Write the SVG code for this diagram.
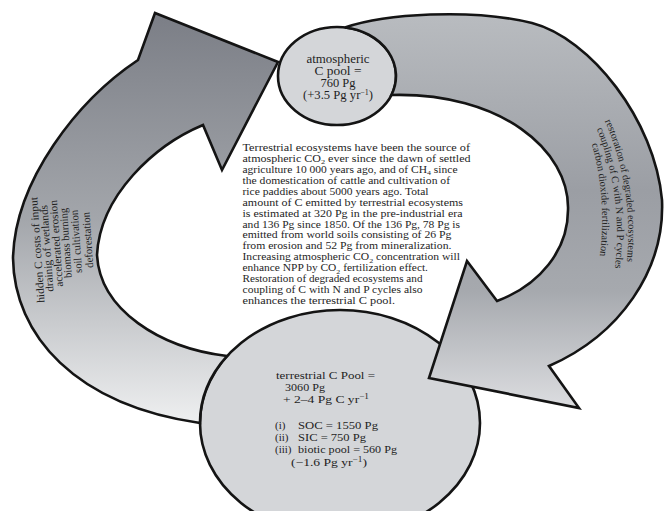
<svg xmlns="http://www.w3.org/2000/svg" width="664" height="511" viewBox="0 0 664 511">
  <style>
    .arrow { stroke: #141414; stroke-width: 2.6; stroke-linejoin: miter; }
    .pool { fill: #d4d6d9; stroke: #141414; stroke-width: 2.6; }
    text { font-family: "Liberation Serif", "Times New Roman", serif; fill: #1e1e1e; }
    .flow { font-size: 11px; fill: #3a3a3a; }
    .uptake { font-size: 10.4px; fill: #3a3a3a; }
    .note { font-size: 10.2px; }
    .pooltxt { font-size: 12px; }
    .soil { font-size: 11px; }
    .sub { font-size: 7px; }
    .sup { font-size: 7.5px; }
  </style>
  <defs>
    <linearGradient id="gradEmission" gradientUnits="userSpaceOnUse" x1="0" y1="13" x2="0" y2="425">
      <stop offset="0" stop-color="#7b7e86"/>
      <stop offset="0.5" stop-color="#a3a6ab"/>
      <stop offset="1" stop-color="#eff0f1"/>
    </linearGradient>
    <linearGradient id="gradUptake" gradientUnits="userSpaceOnUse" x1="0" y1="12" x2="0" y2="410">
      <stop offset="0" stop-color="#b9bcc0"/>
      <stop offset="0.45" stop-color="#9b9ea4"/>
      <stop offset="0.7" stop-color="#a6a9ae"/>
      <stop offset="1" stop-color="#dddee1"/>
    </linearGradient>
    <!-- gently curved baselines for the uptake labels -->
    <path id="arcUp1" d="M604.8,121 A280,280 0 0 1 626.7,263"/>
    <path id="arcUp2" d="M596.8,129 A280,280 0 0 1 614.7,270"/>
    <path id="arcUp3" d="M591.8,144 A280,280 0 0 1 599.7,257"/>
  </defs>

  <rect width="664" height="511" fill="#ffffff"/>

  <!-- carbon pools -->
  <g id="terrestrial-pool">
    <ellipse class="pool" cx="340" cy="423" rx="140" ry="113"/>
    <text class="soil" x="276" y="379" textLength="99" lengthAdjust="spacingAndGlyphs">terrestrial C Pool =</text>
    <text class="soil" x="285" y="391" textLength="40" lengthAdjust="spacingAndGlyphs">3060 Pg</text>
    <text class="soil" x="283" y="403" textLength="86" lengthAdjust="spacingAndGlyphs">+ 2–4 Pg C yr<tspan class="sup" dy="-4">−1</tspan></text>
    <text class="soil" x="275" y="429">(i)</text>
    <text class="soil" x="298" y="429" textLength="80" lengthAdjust="spacingAndGlyphs">SOC = 1550 Pg</text>
    <text class="soil" x="275" y="441">(ii)</text>
    <text class="soil" x="298" y="441" textLength="68" lengthAdjust="spacingAndGlyphs">SIC = 750 Pg</text>
    <text class="soil" x="275" y="453">(iii)</text>
    <text class="soil" x="298" y="453" textLength="99" lengthAdjust="spacingAndGlyphs">biotic pool = 560 Pg</text>
    <text class="soil" x="291" y="466" textLength="76" lengthAdjust="spacingAndGlyphs">(−1.6 Pg yr<tspan class="sup" dy="-4">−1</tspan><tspan dy="4">)</tspan></text>
  </g>

  <g id="atmospheric-pool">
    <ellipse class="pool" cx="337" cy="76" rx="59" ry="49"/>
    <g class="pooltxt" text-anchor="middle">
      <text x="338" y="63" textLength="63" lengthAdjust="spacingAndGlyphs">atmospheric</text>
      <text x="338" y="75" textLength="47" lengthAdjust="spacingAndGlyphs">C pool =</text>
      <text x="338" y="87" textLength="35" lengthAdjust="spacingAndGlyphs">760 Pg</text>
      <text x="338" y="99" textLength="70" lengthAdjust="spacingAndGlyphs">(+3.5 Pg yr<tspan class="sup" dy="-4">−1</tspan><tspan dy="4">)</tspan></text>
    </g>
  </g>

  <!-- flux arrows between the pools -->
  <g id="connectors">
    <g id="emission-arrow">
      <path class="arrow" fill="url(#gradEmission)"
            d="M200,423 C75,405 14,335 13,258 C15,180 78,100 138,60 L155,13 L278,62 L222,170 L203,125
               C155,145 100,195 97,255 C100,310 160,348 227,356 A140,113 0 0 0 200,423 Z"/>
      <g class="flow" text-anchor="middle">
        <text transform="translate(37,250) rotate(-94)" dy="0.35em" textLength="106" lengthAdjust="spacingAndGlyphs">hidden C costs of input</text>
        <text transform="translate(46.5,248.5) rotate(-94)" dy="0.35em" textLength="87" lengthAdjust="spacingAndGlyphs">drainig of wetlands</text>
        <text transform="translate(56,243.5) rotate(-94)" dy="0.35em" textLength="87" lengthAdjust="spacingAndGlyphs">accelerated erosion</text>
        <text transform="translate(65.5,243) rotate(-94)" dy="0.35em" textLength="70" lengthAdjust="spacingAndGlyphs">biomass burning</text>
        <text transform="translate(76,241.5) rotate(-94)" dy="0.35em" textLength="63" lengthAdjust="spacingAndGlyphs">soil cultivation</text>
        <text transform="translate(87.5,240) rotate(-94)" dy="0.35em" textLength="56" lengthAdjust="spacingAndGlyphs">deforestation</text>
      </g>
    </g>
    <g id="uptake-arrow">
      <path class="arrow" fill="url(#gradUptake)"
            d="M345,27.5 C385,14 470,8 532,23 C590,38 655,120 662,200 C665,270 620,335 549,366 L579,408 L429,378 L467,261 L497,301
               C540,285 568,250 568,210 C570,150 500,92 391.4,95 A59,49 0 0 0 345,27.5 Z"/>
      <g class="uptake">
        <text><textPath href="#arcUp1" textLength="144" lengthAdjust="spacingAndGlyphs">restoration of degraded ecosystems</textPath></text>
        <text><textPath href="#arcUp2" textLength="142" lengthAdjust="spacingAndGlyphs">coupling of C with N and P cycles</textPath></text>
        <text><textPath href="#arcUp3" textLength="113" lengthAdjust="spacingAndGlyphs">carbon dioxide fertilization</textPath></text>
      </g>
    </g>
  </g>

  <!-- explanatory paragraph -->
  <g id="summary" class="note">
    <text x="242.5" y="151" textLength="227.5" lengthAdjust="spacingAndGlyphs">Terrestrial ecosystems have been the source of</text>
    <text x="242.5" y="161.9" textLength="228" lengthAdjust="spacingAndGlyphs">atmospheric CO<tspan class="sub" dy="2.5">2</tspan><tspan dy="-2.5"> ever since the dawn of settled</tspan></text>
    <text x="242.5" y="172.9" textLength="215" lengthAdjust="spacingAndGlyphs">agriculture 10 000 years ago, and of CH<tspan class="sub" dy="2.5">4</tspan><tspan dy="-2.5"> since</tspan></text>
    <text x="242.5" y="183.8" textLength="207.5" lengthAdjust="spacingAndGlyphs">the domestication of cattle and cultivation of</text>
    <text x="242.5" y="194.7" textLength="186" lengthAdjust="spacingAndGlyphs">rice paddies about 5000 years ago. Total</text>
    <text x="242.5" y="205.7" textLength="220.5" lengthAdjust="spacingAndGlyphs">amount of C emitted by terrestrial ecosystems</text>
    <text x="242.5" y="216.6" textLength="220" lengthAdjust="spacingAndGlyphs">is estimated at 320 Pg in the pre-industrial era</text>
    <text x="242.5" y="227.5" textLength="217.5" lengthAdjust="spacingAndGlyphs">and 136 Pg since 1850.  Of the 136 Pg, 78 Pg is</text>
    <text x="242.5" y="238.4" textLength="209" lengthAdjust="spacingAndGlyphs">emitted from world soils consisting of 26 Pg</text>
    <text x="242.5" y="249.4" textLength="209" lengthAdjust="spacingAndGlyphs">from erosion and 52 Pg from mineralization.</text>
    <text x="242.5" y="260.3" textLength="217.5" lengthAdjust="spacingAndGlyphs">Increasing atmospheric CO<tspan class="sub" dy="2.5">2</tspan><tspan dy="-2.5"> concentration will</tspan></text>
    <text x="242.5" y="271.2" textLength="185.5" lengthAdjust="spacingAndGlyphs">enhance NPP by CO<tspan class="sub" dy="2.5">2</tspan><tspan dy="-2.5"> fertilization effect.</tspan></text>
    <text x="242.5" y="282.2" textLength="180" lengthAdjust="spacingAndGlyphs">Restoration of degraded ecosystems and</text>
    <text x="242.5" y="293.1" textLength="180" lengthAdjust="spacingAndGlyphs">coupling of C with N and P cycles also</text>
    <text x="242.5" y="304" textLength="152.5" lengthAdjust="spacingAndGlyphs">enhances the terrestrial C pool.</text>
  </g>
</svg>
